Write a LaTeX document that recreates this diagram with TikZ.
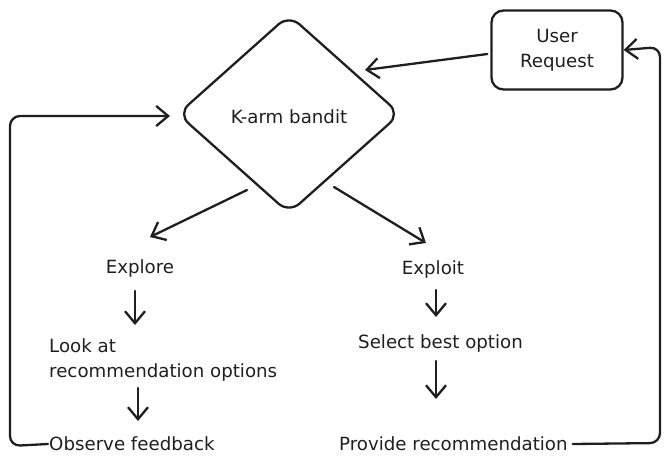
\documentclass[tikz,border=0pt]{standalone}
\usepackage{fontspec}
\setmainfont{DejaVu Sans}
\usetikzlibrary{arrows.meta,shapes.geometric}
\begin{document}
\begin{tikzpicture}[x=1pt,y=-1pt,
  ln/.style={line width=2.3pt,color=black!88,line cap=round,line join=round},
  arr/.style={ln,-{Straight Barb[length=12pt,width=20pt,line width=2.3pt]}},
  lbl/.style={font=\fontsize{18.2}{25}\selectfont,inner sep=1pt,text=black!88},
  ]
\useasboundingbox (0,0) rectangle (672,469);
% diamond
\draw[ln,rounded corners=14pt] (289,15) -- (400,114) -- (289,213) -- (178,114) -- cycle;
\node[lbl] (bandit) at (289,117) {K-arm bandit};
\coordinate (dTop) at (365,70);
\coordinate (dLeft) at (170,116);
\coordinate (dBL) at (247,190);
\coordinate (dBR) at (334,187);
% user request
\node[ln,draw,rounded corners=12pt,minimum width=131pt,minimum height=79pt,lbl,align=center] (user) at (557,50) {User\\Request};
\draw[arr] (user.west) ++(-3pt,-4pt) coordinate (uw) -- (dTop);
% branches
\node[lbl] (explore) at (140,268) {Explore};
\node[lbl] (exploit) at (433,269) {Exploit};
\coordinate (exA) at (150,237);
\coordinate (eiA) at (426,243);
\draw[arr] (dBL) -- (exA);
\draw[arr] (dBR) -- (eiA);
\node[lbl,align=left,anchor=west] (look) at (48,360) {Look at\\recommendation options};
\node[lbl,anchor=west] (select) at (357,343) {Select best option};
\node[lbl,anchor=west] (observe) at (48,444) {Observe feedback};
\node[lbl,anchor=west] (provide) at (338,444) {Provide recommendation};
\draw[arr] (135,291) -- (135,325);
\draw[arr] (436,290) -- (436,317);
\draw[arr] (138,388) -- (138,421);
\draw[arr] (436,361) -- (436,399);
% loops
\draw[arr,rounded corners=10pt] (observe.west) -- (10,446) -- (10,116) -- (dLeft);
\draw[arr,rounded corners=10pt] ([xshift=4pt]provide.east) -- (660,443) -- (660,47) -- (user.east);
\end{tikzpicture}
\end{document}
